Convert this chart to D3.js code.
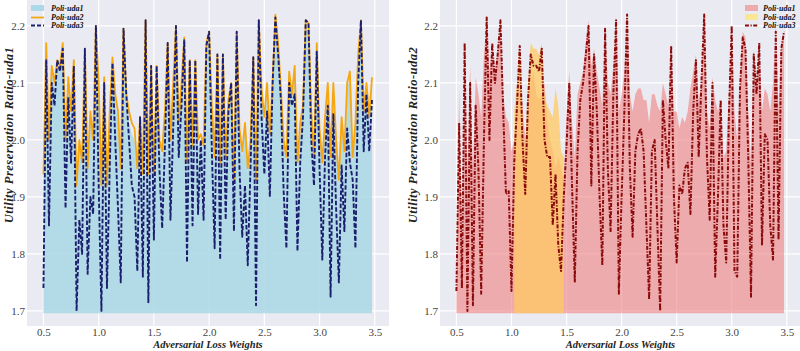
<!DOCTYPE html>
<html><head><meta charset="utf-8">
<script src="https://cdn.jsdelivr.net/npm/d3@7"></script>
<style>body{margin:0;background:#fff}</style>
</head><body>
<svg id="c" width="800" height="351"></svg>
<script>
// ---------- data ----------
const xTickValues = [0.5, 1.0, 1.5, 2.0, 2.5, 3.0, 3.5];
const xTickLabels = ["0.5", "1.0", "1.5", "2.0", "2.5", "3.0", "3.5"];
const yTickValues = [1.7, 1.8, 1.9, 2.0, 2.1, 2.2];
const yTickLabels = ["1.7", "1.8", "1.9", "2.0", "2.1", "2.2"];
const weights = d3.range(120).map(i => 0.5 + i * 0.025); // Adversarial Loss Weights sampled 0.500 .. 3.475
const fillBase = 1.696;

// left panel (uda1)
const leftUda1 = [1.93,2.15,1.99,2.12,2.09,2.13,2.12,2.16,1.99,2.09,
2.04,2.13,1.91,1.99,1.95,2.15,1.94,2.04,1.99,2.19,
2.09,1.91,2.10,1.91,2.04,2.13,2.07,2.03,1.94,2.18,
2.06,2.03,2.01,2.00,1.94,2.03,1.93,2.20,1.93,2.12,
1.93,2.12,1.99,1.97,2.04,2.16,1.99,2.09,2.19,2.02,
2.09,2.17,1.95,2.13,1.98,2.13,1.99,2.00,1.98,2.16,
2.18,2.05,1.96,2.14,1.95,2.14,1.96,2.06,2.09,1.92,
2.18,2.01,1.97,2.02,1.94,1.99,2.13,1.92,2.20,2.08,
2.03,2.09,2.00,2.09,2.21,2.16,2.08,1.99,1.96,2.11,
2.07,2.12,1.95,2.02,2.05,2.20,2.19,2.04,1.96,2.16,
2.01,1.95,2.03,2.09,1.96,2.09,1.99,1.92,2.03,1.97,
2.09,2.11,1.96,2.02,2.14,2.20,2.04,2.09,2.03,2.10];
const leftUda2 = [1.94,2.17,2.00,2.13,2.10,2.14,2.13,2.17,2.00,2.11,
2.05,2.14,1.92,2.00,1.96,2.16,1.95,2.05,2.00,2.20,
2.10,1.92,2.11,1.92,2.05,2.145,2.08,2.05,1.95,2.195,
2.08,2.05,2.03,2.02,1.95,2.04,1.94,2.21,1.94,2.13,
1.94,2.13,2.00,1.98,2.05,2.17,2.00,2.10,2.20,2.03,
2.10,2.18,1.96,2.14,1.99,2.14,2.00,2.01,1.99,2.17,
2.19,2.06,1.97,2.15,1.96,2.15,1.97,2.07,2.10,1.93,
2.19,2.02,1.98,2.03,1.95,2.00,2.145,1.93,2.21,2.09,
2.04,2.10,2.01,2.10,2.22,2.17,2.09,2.00,1.97,2.12,
2.08,2.13,1.96,2.03,2.06,2.21,2.205,2.05,1.97,2.17,
2.02,1.96,2.04,2.10,1.97,2.10,2.00,1.93,2.04,1.98,
2.10,2.12,1.97,2.03,2.15,2.21,2.05,2.10,2.04,2.11];
const leftUda3 = [1.74,2.14,1.85,2.10,2.06,2.14,2.12,2.16,1.88,2.075,
1.96,2.13,1.70,1.86,1.80,2.16,1.765,1.90,1.87,2.20,
1.92,1.70,2.10,1.74,1.95,2.135,2.00,1.88,1.75,2.195,
2.08,2.00,1.92,1.90,1.77,2.04,1.76,2.21,1.715,2.13,
1.825,2.13,1.95,1.845,1.99,2.17,1.86,2.02,2.20,1.97,
2.06,2.175,1.785,2.14,1.85,2.14,1.87,2.00,1.86,2.165,
2.19,1.98,1.81,2.15,1.79,2.15,1.86,2.05,2.10,1.84,
2.19,1.95,1.83,1.92,1.78,1.95,2.145,1.71,2.21,2.04,
1.94,2.05,1.90,2.10,2.215,2.15,2.07,1.91,1.81,2.10,
2.06,2.08,1.805,1.96,2.04,2.21,2.205,2.00,1.92,2.155,
1.95,1.79,1.97,2.06,1.725,2.045,1.88,1.75,1.955,1.84,
2.02,1.96,1.93,1.81,2.10,2.21,1.98,2.08,1.98,2.07];

// right panel (uda2)
const rightUda1 = [1.75,2.09,1.80,2.175,1.95,2.13,1.95,2.11,2.08,2.04,
2.15,2.21,2.12,2.17,2.12,2.16,2.21,2.08,2.04,2.03,
1.98,2.00,2.05,2.10,2.06,2.00,2.05,2.10,2.12,2.08,
2.07,2.08,2.10,2.03,2.00,1.98,1.95,1.97,1.95,1.93,
2.05,2.12,2.03,1.97,2.08,2.10,2.12,2.17,2.21,2.13,
2.16,2.12,2.09,2.06,2.20,2.10,2.08,2.13,2.21,2.05,
2.08,2.12,2.22,2.08,2.05,2.08,2.09,2.09,2.07,2.07,
2.03,2.08,2.08,2.06,2.05,2.10,2.08,2.06,2.17,2.05,
2.05,2.02,2.04,2.03,2.05,2.09,2.12,2.15,2.07,2.10,
2.22,2.05,2.02,2.11,2.07,2.05,2.07,1.97,1.98,2.08,
2.20,2.05,2.00,2.10,2.19,2.18,2.05,1.96,2.16,2.10,
2.17,2.05,2.09,2.08,2.05,2.10,2.20,2.05,2.17,2.19];
const rightUda2 = [null,null,null,null,null,null,null,null,null,null,
null,null,null,null,null,null,null,null,null,null,
null,2.05,2.10,2.17,2.05,1.98,2.10,2.17,2.16,2.16,
2.15,2.17,2.08,2.06,2.05,2.04,2.09,2.06,1.98,1.97,
null,null,null,null,null,null,null,null,null,null,
null,null,null,null,null,null,null,null,null,null,
null,null,null,null,null,null,null,null,null,null,
null,null,null,null,null,null,null,null,null,null,
null,null,null,null,null,null,null,null,null,null,
null,null,null,null,null,null,null,null,null,null,
null,null,null,null,null,null,null,null,null,null,
null,null,null,null,null,null,null,null,null,null];
const rightUda3 = [1.735,2.03,1.74,2.17,1.70,2.10,1.71,2.06,1.95,1.73,
2.00,2.215,2.00,2.17,2.10,2.15,2.21,2.05,1.905,1.91,
1.735,1.96,2.06,2.165,2.00,1.905,2.07,2.15,2.13,2.13,
2.12,2.16,2.00,1.97,1.97,1.85,1.94,1.815,1.77,1.90,
1.99,2.10,1.92,1.75,1.98,2.07,2.10,2.15,2.20,1.92,
2.15,2.05,1.90,1.78,2.195,1.95,1.84,2.08,2.21,1.73,
1.90,2.05,2.22,1.95,1.83,1.98,2.01,2.02,1.98,1.85,
1.72,1.98,2.00,1.85,1.70,2.07,2.00,1.95,2.165,1.90,
1.785,1.92,1.905,1.95,1.96,1.87,2.05,2.14,1.97,2.10,
2.22,1.97,1.86,2.10,1.76,1.90,2.07,1.85,1.785,2.05,
2.20,1.77,1.76,2.09,2.18,2.16,1.97,1.725,2.15,2.08,
2.17,1.815,2.01,2.00,1.85,1.79,2.19,1.825,2.16,2.19];

// ---------- drawing ----------
const svg = d3.select("#c");
const xDomain = [0.351, 3.629];
const yDomain = [1.6735, 2.2455];
const serif = "'Liberation Serif','Times New Roman',serif";

function panel(opt) {
  const x = d3.scaleLinear().domain(xDomain).range([opt.left, opt.right]);
  const y = d3.scaleLinear().domain(yDomain).range([326, 0]);
  const g = svg.append("g");
  g.append("rect").attr("x", opt.left).attr("y", 0)
    .attr("width", opt.right - opt.left).attr("height", 326).attr("fill", "#eaeaf2");
  // grid
  g.append("g").selectAll("line").data(yTickValues).join("line")
    .attr("x1", opt.left).attr("x2", opt.right)
    .attr("y1", d => y(d)).attr("y2", d => y(d))
    .attr("stroke", "#fff").attr("stroke-width", 1.2);
  g.append("g").selectAll("line").data(xTickValues).join("line")
    .attr("y1", 0).attr("y2", 326)
    .attr("x1", d => x(d)).attr("x2", d => x(d))
    .attr("stroke", "#fff").attr("stroke-width", 1.2);
  opt.draw(g, x, y);
  // axes (tick labels only)
  const ax = g.append("g").attr("transform", "translate(0,326)")
    .call(d3.axisBottom(x).tickValues(xTickValues).tickFormat((d, i) => xTickLabels[i]).tickSize(0).tickPadding(2));
  ax.select(".domain").remove();
  ax.selectAll("text").attr("font-family", serif).attr("font-size", 11).attr("fill", "#444");
  const ay = g.append("g").attr("transform", `translate(${opt.left},0)`)
    .call(d3.axisLeft(y).tickValues(yTickValues).tickFormat((d, i) => yTickLabels[i]).tickSize(0).tickPadding(2));
  ay.select(".domain").remove();
  ay.selectAll("text").attr("font-family", serif).attr("font-size", 11).attr("fill", "#444");
  g.append("text").attr("x", (opt.left + opt.right) / 2 + opt.xlabDx).attr("y", 348)
    .attr("text-anchor", "middle").attr("font-family", serif).attr("font-size", 10.5)
    .attr("font-weight", "bold").attr("font-style", "italic").attr("fill", "#222")
    .text("Adversarial Loss Weights");
  g.append("text").attr("transform", `translate(${opt.ylabX},135) rotate(-90)`)
    .attr("text-anchor", "middle").attr("font-family", serif).attr("font-size", 12.5)
    .attr("letter-spacing", 0.5)
    .attr("font-weight", "bold").attr("font-style", "italic").attr("fill", "#222")
    .text(opt.ylabel);
  opt.legend(g);
}

function legendText(g, x, y, t) {
  g.append("text").attr("x", x).attr("y", y).attr("font-family", serif).attr("font-size", 8)
    .attr("font-weight", "bold").attr("font-style", "italic").attr("fill", "#111").text(t);
}

// left
panel({
  left: 27, right: 389, xlabDx: 0, ylabX: 13, ylabel: "Utility Preservation Ratio-uda1",
  draw(g, x, y) {
    const idx = d3.range(weights.length);
    g.append("path").datum(idx)
      .attr("d", d3.area().x(i => x(weights[i])).y0(y(fillBase)).y1(i => y(leftUda1[i])))
      .attr("fill", "#add8e6").attr("fill-opacity", 0.9);
    g.append("path").datum(idx)
      .attr("d", d3.line().x(i => x(weights[i])).y(i => y(leftUda2[i])))
      .attr("fill", "none").attr("stroke", "#f5a712").attr("stroke-width", 1.8).attr("stroke-linejoin", "round");
    g.append("path").datum(idx)
      .attr("d", d3.line().x(i => x(weights[i])).y(i => y(leftUda3[i])))
      .attr("fill", "none").attr("stroke", "#1c1f6e").attr("stroke-width", 1.9)
      .attr("stroke-dasharray", "4.5,2").attr("stroke-linejoin", "round");
  },
  legend(g) {
    g.append("rect").attr("x", 31).attr("y", 5).attr("width", 13).attr("height", 6).attr("fill", "#add8e6");
    legendText(g, 51, 11, "Poli-uda1");
    g.append("line").attr("x1", 31).attr("x2", 44).attr("y1", 17.5).attr("y2", 17.5).attr("stroke", "#f5a712").attr("stroke-width", 1.8);
    legendText(g, 51, 20, "Poli-uda2");
    g.append("line").attr("x1", 31).attr("x2", 44).attr("y1", 25.5).attr("y2", 25.5).attr("stroke", "#1c1f6e").attr("stroke-width", 1.9).attr("stroke-dasharray", "4,2");
    legendText(g, 51, 28, "Poli-uda3");
  }
});

// right
panel({
  left: 440, right: 801, xlabDx: 0, ylabX: 417, ylabel: "Utility Preservation Ratio-uda2",
  draw(g, x, y) {
    const idx = d3.range(weights.length);
    g.append("path").datum(idx)
      .attr("d", d3.area().x(i => x(weights[i])).y0(y(fillBase)).y1(i => y(rightUda1[i])))
      .attr("fill", "#f08080").attr("fill-opacity", 0.6);
    g.append("path").datum(idx)
      .attr("d", d3.area().defined(i => rightUda2[i] != null).x(i => x(weights[i])).y0(y(fillBase)).y1(i => y(rightUda2[i])))
      .attr("fill", "#ffc860").attr("fill-opacity", 0.75);
    g.append("path").datum(idx)
      .attr("d", d3.line().x(i => x(weights[i])).y(i => y(rightUda3[i])))
      .attr("fill", "none").attr("stroke", "#8b0a0a").attr("stroke-width", 2)
      .attr("stroke-dasharray", "4,1.5,1.2,1.5").attr("stroke-linejoin", "round");
  },
  legend(g) {
    g.append("rect").attr("x", 745).attr("y", 5).attr("width", 13).attr("height", 6).attr("fill", "#f08080").attr("fill-opacity", 0.6);
    legendText(g, 763, 11, "Poli-uda1");
    g.append("rect").attr("x", 745).attr("y", 14).attr("width", 13).attr("height", 6).attr("fill", "#ffe57a").attr("fill-opacity", 0.8);
    legendText(g, 763, 20, "Poli-uda2");
    g.append("line").attr("x1", 745).attr("x2", 758).attr("y1", 25.5).attr("y2", 25.5).attr("stroke", "#8b0a0a").attr("stroke-width", 2).attr("stroke-dasharray", "4,1.5,1.2,1.5");
    legendText(g, 763, 28, "Poli-uda3");
  }
});
</script>
</body></html>
